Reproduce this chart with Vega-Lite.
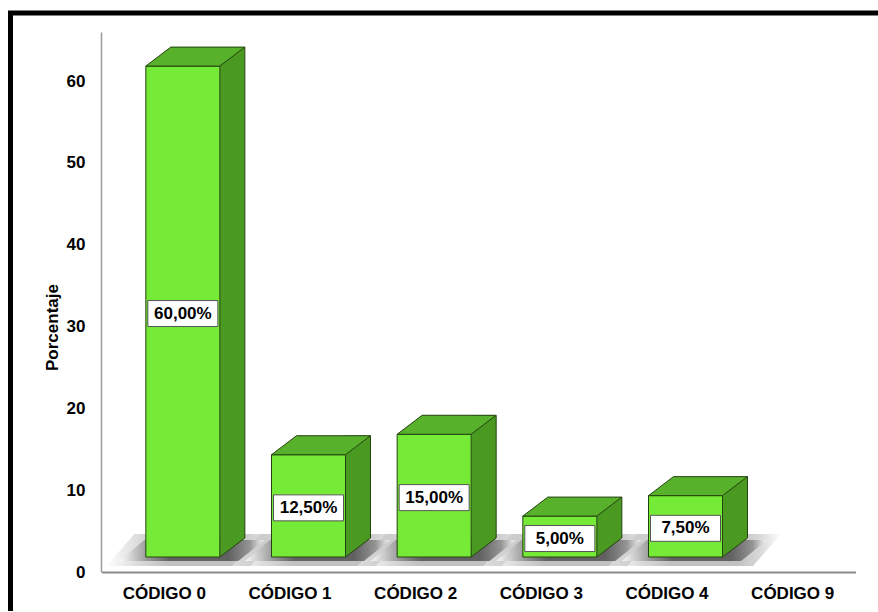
{
  "$schema": "https://vega.github.io/schema/vega-lite/v6.json",
  "width": 871,
  "height": 602,
  "autosize": {"type": "none"},
  "padding": {"left": 10.5, "top": 13, "right": -4, "bottom": -4},
  "background": "white",
  "config": {
    "view": {"stroke": "black", "strokeWidth": 5, "fill": "white"},
    "font": "Liberation Sans",
    "axis": {"grid": false, "ticks": false, "tickSize": 0, "labelFont": "Liberation Sans", "labelFontWeight": "bold", "labelFontSize": 17, "labelColor": "black", "titleFont": "Liberation Sans", "titleFontWeight": "bold", "titleFontSize": 17, "titleColor": "black"}
  },
  "data": {"values": [
    {"codigo": "CÓDIGO 0", "porcentaje": 60, "etiqueta": "60,00%"},
    {"codigo": "CÓDIGO 1", "porcentaje": 12.5, "etiqueta": "12,50%"},
    {"codigo": "CÓDIGO 2", "porcentaje": 15, "etiqueta": "15,00%"},
    {"codigo": "CÓDIGO 3", "porcentaje": 5, "etiqueta": "5,00%"},
    {"codigo": "CÓDIGO 4", "porcentaje": 7.5, "etiqueta": "7,50%"},
    {"codigo": "CÓDIGO 9", "porcentaje": 0, "etiqueta": ""}
  ]},
  "encoding": {
    "x": {"field": "codigo", "type": "nominal", "sort": null,
      "scale": {"domain": ["CÓDIGO 0", "CÓDIGO 1", "CÓDIGO 2", "CÓDIGO 3", "CÓDIGO 4", "CÓDIGO 9"], "range": [91, 845], "paddingInner": 0, "paddingOuter": 0},
      "axis": {"title": null, "labelAngle": 0, "offset": -43, "domainColor": "#8c8c8c", "domainWidth": 2, "labelPadding": 13}}
  },
  "layer": [
    {
      "transform": [{"filter": "datum.porcentaje > 0"}],
      "encoding": {
        "y": {"field": "porcentaje", "type": "quantitative",
          "scale": {"domain": [0, 66], "range": [559, 19], "nice": false},
          "axis": {"title": "Porcentaje", "values": [0, 10, 20, 30, 40, 50, 60], "offset": -90.5, "domainColor": "#9a9a9a", "domainWidth": 1.5, "labelPadding": 16, "titleX": -49, "titleY": 314, "titleAngle": -90, "titleBaseline": "middle", "titleAlign": "center"}}
      },
      "layer": [
        {
          "mark": {"type": "point", "shape": "M-58,-6 L86,-6 L114,-38 L-30,-38 Z", "size": 4, "filled": true, "opacity": 0.45, "strokeWidth": 0,
            "fill": {"gradient": "linear", "x1": 0, "x2": 1, "y1": 0, "y2": 0, "stops": [{"offset": 0, "color": "#ffffff"}, {"offset": 0.2, "color": "#aaaaaa"}, {"offset": 0.35, "color": "#777777"}, {"offset": 0.75, "color": "#777777"}, {"offset": 0.88, "color": "#aaaaaa"}, {"offset": 1, "color": "#ffffff"}]}},
          "encoding": {"y": {"datum": 0}}
        },
        {
          "mark": {"type": "point", "shape": "M-45,-11 L74,-11 L100,-32 L-20,-32 Z", "size": 4, "filled": true, "opacity": 0.85, "strokeWidth": 0,
            "fill": {"gradient": "linear", "x1": 0, "x2": 1, "y1": 0, "y2": 0, "stops": [{"offset": 0, "color": "#ffffff"}, {"offset": 0.2, "color": "#8a8a8a"}, {"offset": 0.35, "color": "#505050"}, {"offset": 0.75, "color": "#505050"}, {"offset": 0.9, "color": "#8a8a8a"}, {"offset": 1, "color": "#ffffff"}]}},
          "encoding": {"y": {"datum": 0}}
        },
        {
          "mark": {"type": "bar", "width": 25, "xOffset": 68, "yOffset": -34, "y2Offset": -34, "fill": "#4a9a22", "strokeWidth": 0},
          "encoding": {"y2": {"datum": 0}}
        },
        {
          "mark": {"type": "point", "shape": "M55.5,-15 L55.5,-34 L80.5,-34 Z", "size": 4, "filled": true, "opacity": 1, "fill": "#4a9a22", "strokeWidth": 0},
          "encoding": {"y": {"datum": 0}}
        },
        {
          "mark": {"type": "rule", "xOffset": 80.5, "yOffset": -34, "y2Offset": -34, "color": "#24420f", "strokeWidth": 1},
          "encoding": {"y2": {"datum": 0}}
        },
        {
          "mark": {"type": "point", "shape": "M55.5,-15 L80.5,-34", "size": 4, "filled": false, "opacity": 1, "stroke": "#24420f", "strokeWidth": 1},
          "encoding": {"y": {"datum": 0}}
        },
        {
          "mark": {"type": "bar", "width": 74, "xOffset": 18.5, "yOffset": -15, "y2Offset": -15, "fill": "#76eb37", "stroke": "#24420f", "strokeWidth": 1},
          "encoding": {"y2": {"datum": 0}}
        },
        {
          "mark": {"type": "point", "shape": "M-18.5,-15 L55.5,-15 L80.5,-34 L6.5,-34 Z", "size": 4, "filled": true, "opacity": 1, "fill": "#58b12b", "stroke": "#24420f", "strokeWidth": 1}
        }
      ]
    },
    {
      "transform": [{"filter": "datum.porcentaje > 0"}],
      "encoding": {
        "y": {"field": "porcentaje", "type": "quantitative",
          "scale": {"domain": [0, 132], "range": [559, 19], "nice": false},
          "axis": null}
      },
      "layer": [
        {
          "mark": {"type": "point", "shape": "M-16.5,-13 L53.5,-13 L53.5,13 L-16.5,13 Z", "size": 4, "filled": true, "opacity": 1, "fill": "white", "stroke": "#555555", "strokeWidth": 1, "yOffset": -13}
        },
        {
          "mark": {"type": "text", "xOffset": 18.5, "yOffset": -13, "baseline": "middle", "align": "center", "font": "Liberation Sans", "fontWeight": "bold", "fontSize": 17, "color": "black"},
          "encoding": {"text": {"field": "etiqueta"}}
        }
      ]
    }
  ],
  "resolve": {"scale": {"y": "independent"}}
}
